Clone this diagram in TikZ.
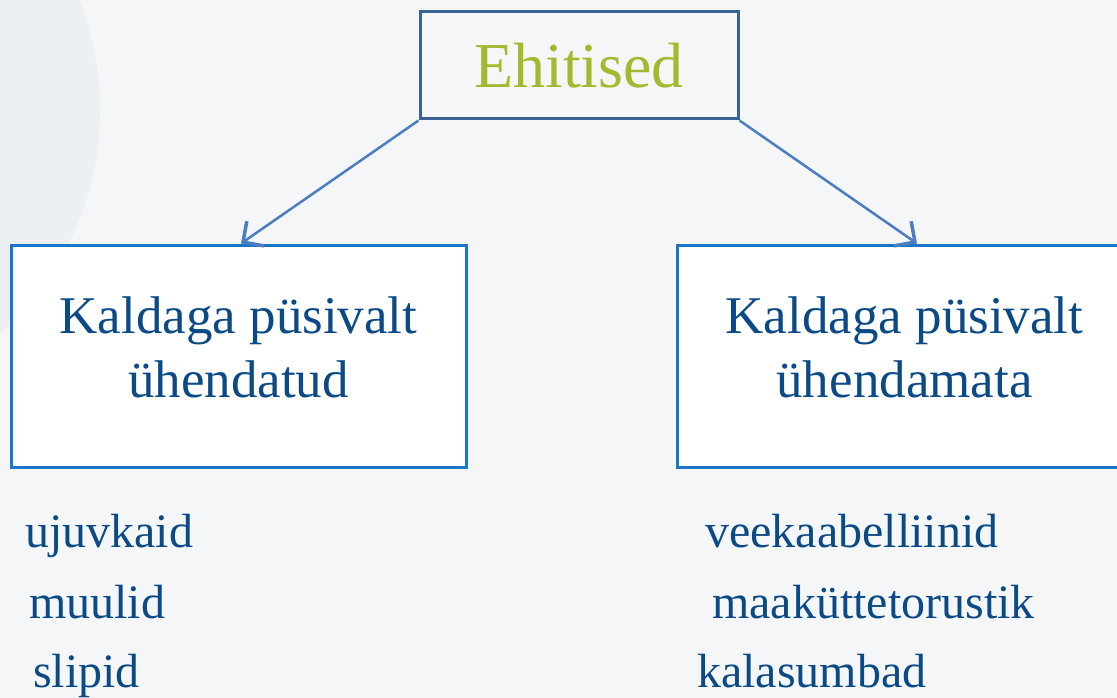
\documentclass[tikz,border=0pt]{standalone}
\usepackage{fontspec}
\setmainfont{Liberation Serif}
\usetikzlibrary{arrows.meta}

\definecolor{bgcol}{HTML}{F4F6F8}
\definecolor{bgshade}{HTML}{ECEFF3}
\definecolor{topframe}{HTML}{3B6294}
\definecolor{boxframe}{HTML}{1C76C8}
\definecolor{linkblue}{HTML}{4A7EC0}
\definecolor{ehigreen}{HTML}{A3BA2E}
\definecolor{textblue}{HTML}{0B4A86}

\tikzset{
    topbox/.style={draw=topframe, line width=3pt, fill=bgcol, inner sep=0pt,
        minimum width=318pt, minimum height=107pt, text=ehigreen,
        font=\fontsize{64}{77}\selectfont},
    kindbox/.style={draw=boxframe, line width=3pt, fill=white, inner sep=0pt,
        minimum width=455pt, minimum height=222pt, align=center, text=textblue,
        text depth=18pt, font=\fontsize{53}{64}\selectfont},
    item/.style={anchor=base west, inner sep=0pt, text=textblue,
        font=\fontsize{48}{58}\selectfont},
    link/.style={draw=linkblue, line width=2.5pt,
        -{Straight Barb[length=15pt,width=30pt,line width=3.5pt]}}
}

\begin{document}
\begin{tikzpicture}[x=1pt,y=-1pt]
        \useasboundingbox (0,0) rectangle (1117,698);
        \clip (0,0) rectangle (1117,698);
        \fill[bgcol] (0,0) rectangle (1117,698);
        \fill[bgshade] (-200,110) circle (300pt);

        \node[topbox] (ehitised) at (579,65.5) {Ehitised};
        \node[kindbox] (yhendatud) at (238.5,356) {Kaldaga püsivalt\\ühendatud};
        \node[kindbox] (yhendamata) at (904.5,356) {Kaldaga püsivalt\\ühendamata};

        \draw[link] (ehitised.south west) -- ([xshift=2.5pt]yhendatud.north);
        \draw[link] (ehitised.south east) -- ([xshift=12.5pt]yhendamata.north);

        % loetelud kastide all
        \node[item] (ujuvkaid) at (25,547) {ujuvkaid};
        \node[item] (muulid) at (29,618) {muulid};
        \node[item] (slipid) at (33,687) {slipid};
        \node[item] (veekaabel) at (705,547) {veekaabelliinid};
        \node[item] (maakytte) at (712,618) {maaküttetorustik};
        \node[item] (kalasumbad) at (697,687) {kalasumbad};
    \end{tikzpicture}
\end{document}
